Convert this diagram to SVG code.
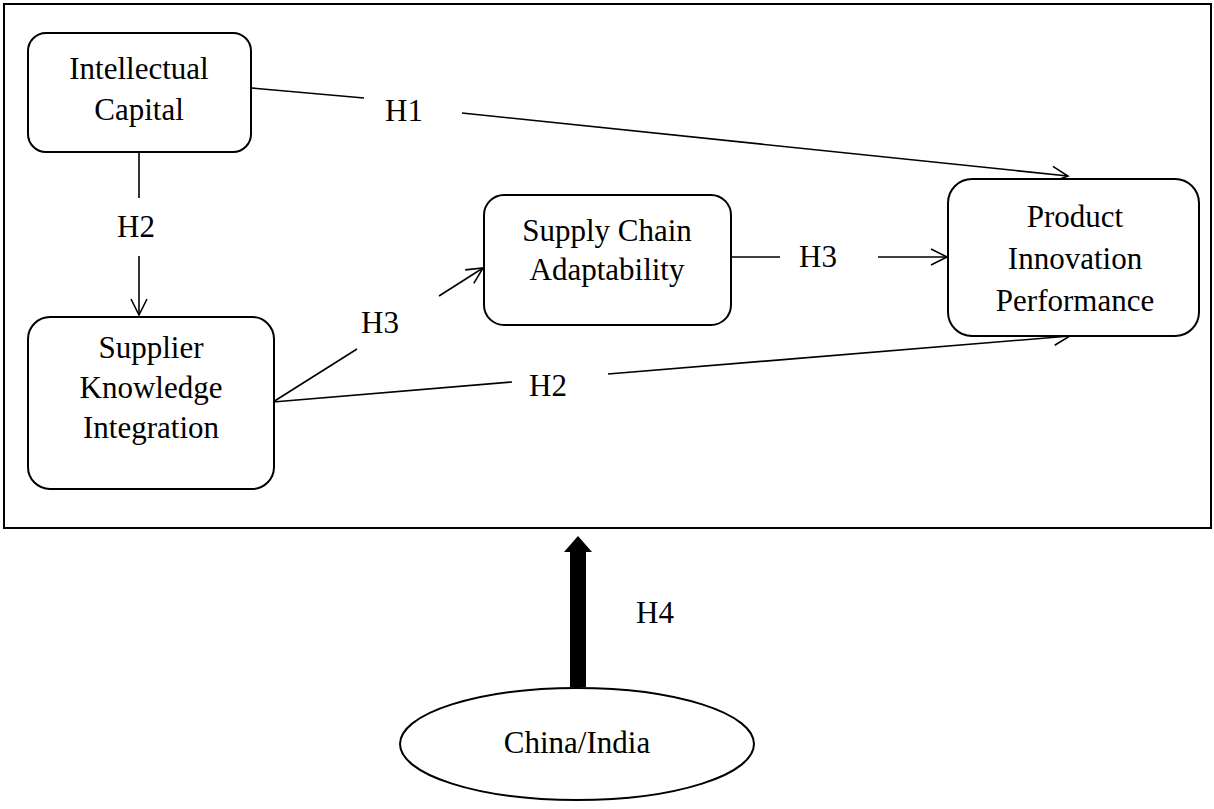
<svg xmlns="http://www.w3.org/2000/svg" width="1214" height="809" viewBox="0 0 1214 809">
<style>
text{font-family:"Liberation Serif","Times New Roman",serif;font-size:31px;fill:#000;text-anchor:middle}
.box{fill:#fff;stroke:#000;stroke-width:2}
.ln{stroke:#000;stroke-width:1.6;fill:none}
</style>
<defs>
<marker id="arr" markerUnits="userSpaceOnUse" markerWidth="22" markerHeight="22" refX="17" refY="9" orient="auto">
<path d="M1,1 L17,9 L1,17" fill="none" stroke="#000" stroke-width="1.6"/>
</marker>
</defs>
<rect x="4" y="4" width="1207" height="524" fill="#fff" stroke="#000" stroke-width="2"/>
<g id="connectors">
<line class="ln" x1="252" y1="88" x2="364" y2="98"/>
<line class="ln" x1="462" y1="113" x2="1068" y2="176" marker-end="url(#arr)"/>
<line class="ln" x1="139" y1="152" x2="139" y2="198"/>
<line class="ln" x1="139" y1="256" x2="139" y2="315" marker-end="url(#arr)"/>
<line class="ln" x1="273" y1="402" x2="357" y2="349"/>
<line class="ln" x1="439" y1="296" x2="483" y2="268" marker-end="url(#arr)"/>
<line class="ln" x1="273" y1="402" x2="512" y2="382"/>
<line class="ln" x1="608" y1="374" x2="1070" y2="336" marker-end="url(#arr)"/>
<line class="ln" x1="732" y1="257" x2="780" y2="257"/>
<line class="ln" x1="878" y1="257" x2="947" y2="257" marker-end="url(#arr)"/>
<polygon points="570,687 586,687 586,552 592,552 578,536 564,552 570,552" fill="#000"/>
<text x="404" y="121">H1</text>
<text x="136" y="237">H2</text>
<text x="380" y="333">H3</text>
<text x="818" y="267">H3</text>
<text x="548" y="396">H2</text>
<text x="655" y="623">H4</text>
</g>
<g id="intellectual-capital">
<rect class="box" x="28" y="33" width="223" height="119" rx="18"/>
<text x="139" y="79">Intellectual</text>
<text x="139" y="120">Capital</text>
</g>
<g id="supplier-knowledge-integration">
<rect class="box" x="28" y="317" width="246" height="172" rx="22"/>
<text x="151" y="358">Supplier</text>
<text x="151" y="398">Knowledge</text>
<text x="151" y="438">Integration</text>
</g>
<g id="supply-chain-adaptability">
<rect class="box" x="484" y="195" width="247" height="130" rx="20"/>
<text x="607" y="241">Supply Chain</text>
<text x="607" y="280">Adaptability</text>
</g>
<g id="product-innovation-performance">
<rect class="box" x="948" y="179" width="251" height="157" rx="24"/>
<text x="1075" y="227">Product</text>
<text x="1075" y="269">Innovation</text>
<text x="1075" y="311">Performance</text>
</g>
<g id="china-india">
<ellipse class="box" cx="577" cy="744" rx="177" ry="56"/>
<text x="577" y="753">China/India</text>
</g>
</svg>
